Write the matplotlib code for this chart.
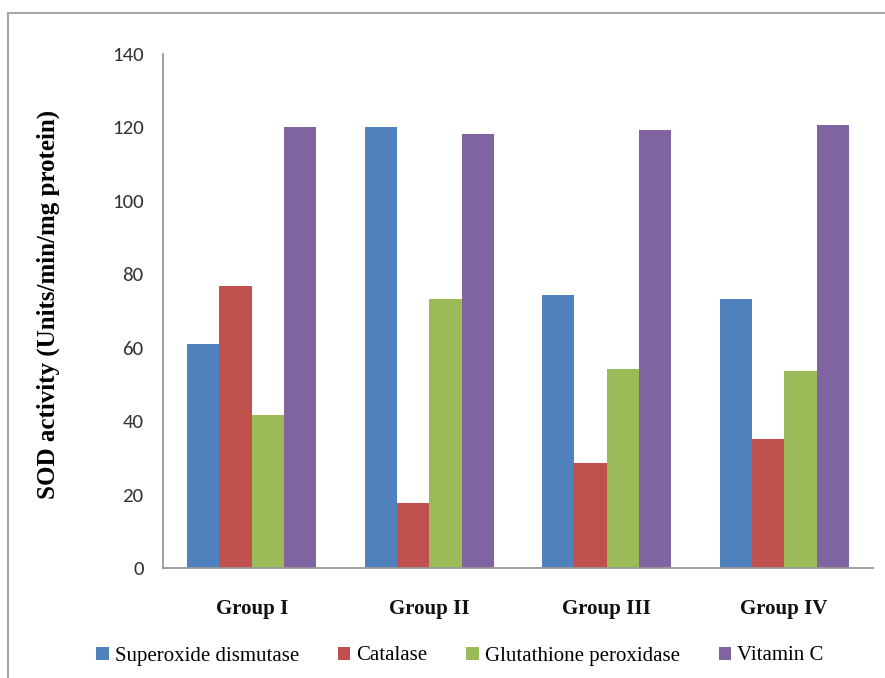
import matplotlib
matplotlib.use("Agg")
import matplotlib.pyplot as plt
import numpy as np
from matplotlib.patches import Rectangle, Patch

groups = ["Group I", "Group II", "Group III", "Group IV"]
series_names = ["Superoxide dismutase", "Catalase", "Glutathione peroxidase", "Vitamin C"]
superoxide_dismutase = [61.0, 120.0, 74.3, 73.4]
catalase = [76.8, 17.7, 28.7, 35.2]
glutathione_peroxidase = [41.7, 73.4, 54.1, 53.7]
vitamin_c = [120.0, 118.1, 119.4, 120.7]
y_ticks = [0, 20, 40, 60, 80, 100, 120, 140]

colors = ["#4f81bd", "#c0504d", "#9bbb59", "#8064a2"]
series = [superoxide_dismutase, catalase, glutathione_peroxidase, vitamin_c]

fig = plt.figure(figsize=(8.85, 6.78), dpi=100)
ax = fig.add_axes([163 / 885, 1 - 568 / 678, (873 - 163) / 885, (568 - 54) / 678])

x = np.arange(len(groups))
width = 1 / 5.5
for i, (vals, c) in enumerate(zip(series, colors)):
    ax.bar(x + (i - 1.5) * width, vals, width, color=c, edgecolor="none",
           label=series_names[i])

ax.set_xlim(-0.5, len(groups) - 0.5)
ax.set_ylim(0, 140)
ax.set_yticks(y_ticks)
ax.set_yticklabels([str(t) for t in y_ticks], fontsize=15, color="#333333",
                   family=["Carlito", "Open Sans", "DejaVu Sans"])
ax.set_xticks(x)
ax.set_xticklabels(groups, fontsize=15, fontweight="bold",
                   family="Liberation Serif", color="#111111")
ax.tick_params(axis="y", length=0, pad=14)
ax.tick_params(axis="x", length=0, pad=22)
for s in ["top", "right"]:
    ax.spines[s].set_visible(False)
for s in ["left", "bottom"]:
    ax.spines[s].set_color("#999999")
    ax.spines[s].set_linewidth(1.3)

fig.text(48 / 885, 1 - 304 / 678, "SOD activity (Units/min/mg protein)",
         rotation=90, ha="center", va="center", fontsize=18, fontweight="bold",
         family="Liberation Serif")

handles = [Patch(facecolor=c, edgecolor="none") for c in colors]
fig.legend(handles, series_names, loc="center", bbox_to_anchor=(460 / 885, 1 - 656 / 678),
           ncol=4, frameon=False, prop={"family": "Liberation Serif", "size": 15},
           handlelength=0.6, handleheight=0.6, handletextpad=0.3, columnspacing=1.85,
           borderpad=0, borderaxespad=0)

# outer chart frame
fig.patches.append(Rectangle((8 / 885, -0.05), 1.0, 1 - 13 / 678 + 0.05,
                             transform=fig.transFigure, fill=False,
                             edgecolor="#a6a6a6", linewidth=1.5))

fig.savefig("out.png", dpi=100)
